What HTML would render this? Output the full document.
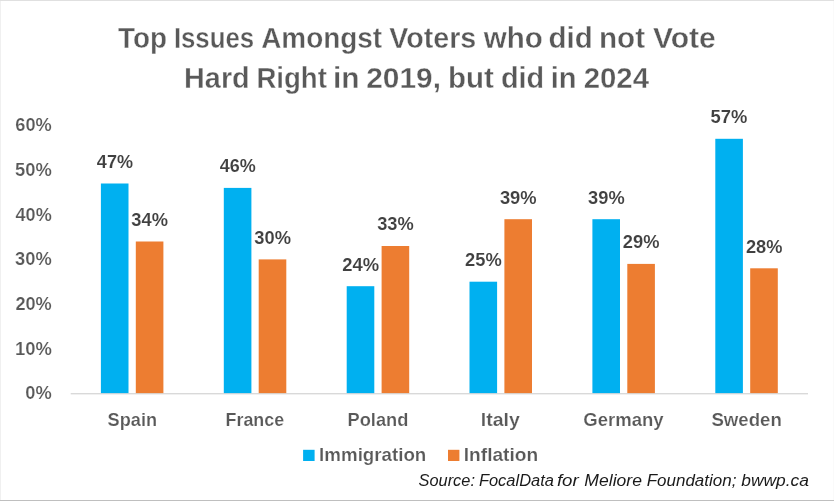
<!DOCTYPE html>
<html><head><meta charset="utf-8"><title>Chart</title>
<style>
html,body{margin:0;padding:0;background:#fff;}
body{width:834px;height:501px;overflow:hidden;position:relative;}
svg{display:block;position:absolute;left:0;top:0;will-change:transform;}
svg text{font-family:"Liberation Sans",sans-serif;}
.bt{position:absolute;left:0;top:0;width:834px;height:1px;background:#e0e0e0;}
.bb{position:absolute;left:0;top:500px;width:834px;height:1px;background:#bfbfbf;}
.bl{position:absolute;left:0;top:0;width:1px;height:501px;background:#f0f0f0;}
.br{position:absolute;left:833px;top:0;width:1px;height:501px;background:#fafafa;}
</style></head><body>
<svg width="834" height="501" viewBox="0 0 834 501">
<rect x="70.7" y="393.0" width="737.3" height="1.4" fill="#d9d9d9"/>
<rect x="100.9" y="183.5" width="27.6" height="209.6" fill="#00b0f0"/>
<rect x="135.8" y="241.5" width="27.6" height="151.6" fill="#ed7d31"/>
<rect x="223.8" y="187.9" width="27.6" height="205.2" fill="#00b0f0"/>
<rect x="258.7" y="259.4" width="27.6" height="133.7" fill="#ed7d31"/>
<rect x="346.7" y="286.2" width="27.6" height="106.9" fill="#00b0f0"/>
<rect x="381.6" y="246.0" width="27.6" height="147.1" fill="#ed7d31"/>
<rect x="469.5" y="281.7" width="27.6" height="111.4" fill="#00b0f0"/>
<rect x="504.4" y="219.2" width="27.6" height="173.9" fill="#ed7d31"/>
<rect x="592.4" y="219.2" width="27.6" height="173.9" fill="#00b0f0"/>
<rect x="627.3" y="263.9" width="27.6" height="129.2" fill="#ed7d31"/>
<rect x="715.3" y="138.8" width="27.6" height="254.3" fill="#00b0f0"/>
<rect x="750.2" y="268.3" width="27.6" height="124.8" fill="#ed7d31"/>
<rect x="303.1" y="449.8" width="11.5" height="11.2" fill="#00b0f0"/>
<rect x="448.0" y="449.8" width="11.4" height="11.2" fill="#ed7d31"/>
<text x="118.09" y="47.6" font-size="29.6" fill="#595959" font-weight="bold" font-style="normal" textLength="49.01" lengthAdjust="spacingAndGlyphs" stroke="#fff" stroke-width="0.35">Top</text>
<text x="173.88" y="47.6" font-size="29.6" fill="#595959" font-weight="bold" font-style="normal" textLength="80.15" lengthAdjust="spacingAndGlyphs" stroke="#fff" stroke-width="0.35">Issues</text>
<text x="261.23" y="47.6" font-size="29.6" fill="#595959" font-weight="bold" font-style="normal" textLength="120.85" lengthAdjust="spacingAndGlyphs" stroke="#fff" stroke-width="0.35">Amongst</text>
<text x="389.37" y="47.6" font-size="29.6" fill="#595959" font-weight="bold" font-style="normal" textLength="86.93" lengthAdjust="spacingAndGlyphs" stroke="#fff" stroke-width="0.35">Voters</text>
<text x="483.80" y="47.6" font-size="29.6" fill="#595959" font-weight="bold" font-style="normal" textLength="59.06" lengthAdjust="spacingAndGlyphs" stroke="#fff" stroke-width="0.35">who</text>
<text x="548.51" y="47.6" font-size="29.6" fill="#595959" font-weight="bold" font-style="normal" textLength="44.20" lengthAdjust="spacingAndGlyphs" stroke="#fff" stroke-width="0.35">did</text>
<text x="598.97" y="47.6" font-size="29.6" fill="#595959" font-weight="bold" font-style="normal" textLength="46.05" lengthAdjust="spacingAndGlyphs" stroke="#fff" stroke-width="0.35">not</text>
<text x="652.90" y="47.6" font-size="29.6" fill="#595959" font-weight="bold" font-style="normal" textLength="62.90" lengthAdjust="spacingAndGlyphs" stroke="#fff" stroke-width="0.35">Vote</text>
<text x="184.08" y="88.0" font-size="29.6" fill="#595959" font-weight="bold" font-style="normal" textLength="65.62" lengthAdjust="spacingAndGlyphs" stroke="#fff" stroke-width="0.35">Hard</text>
<text x="256.40" y="88.0" font-size="29.6" fill="#595959" font-weight="bold" font-style="normal" textLength="70.49" lengthAdjust="spacingAndGlyphs" stroke="#fff" stroke-width="0.35">Right</text>
<text x="333.09" y="88.0" font-size="29.6" fill="#595959" font-weight="bold" font-style="normal" textLength="26.51" lengthAdjust="spacingAndGlyphs" stroke="#fff" stroke-width="0.35">in</text>
<text x="366.22" y="88.0" font-size="29.6" fill="#595959" font-weight="bold" font-style="normal" textLength="74.73" lengthAdjust="spacingAndGlyphs" stroke="#fff" stroke-width="0.35">2019,</text>
<text x="447.95" y="88.0" font-size="29.6" fill="#595959" font-weight="bold" font-style="normal" textLength="45.83" lengthAdjust="spacingAndGlyphs" stroke="#fff" stroke-width="0.35">but</text>
<text x="500.95" y="88.0" font-size="29.6" fill="#595959" font-weight="bold" font-style="normal" textLength="43.27" lengthAdjust="spacingAndGlyphs" stroke="#fff" stroke-width="0.35">did</text>
<text x="550.69" y="88.0" font-size="29.6" fill="#595959" font-weight="bold" font-style="normal" textLength="25.88" lengthAdjust="spacingAndGlyphs" stroke="#fff" stroke-width="0.35">in</text>
<text x="583.66" y="88.0" font-size="29.6" fill="#595959" font-weight="bold" font-style="normal" textLength="65.34" lengthAdjust="spacingAndGlyphs" stroke="#fff" stroke-width="0.35">2024</text>
<text x="25.37" y="399.3" font-size="18.0" fill="#595959" font-weight="bold" font-style="normal" textLength="26.39" lengthAdjust="spacingAndGlyphs" stroke="#fff" stroke-width="0.18">0%</text>
<text x="14.91" y="354.6" font-size="18.0" fill="#595959" font-weight="bold" font-style="normal" textLength="36.89" lengthAdjust="spacingAndGlyphs" stroke="#fff" stroke-width="0.18">10%</text>
<text x="15.41" y="310.0" font-size="18.0" fill="#595959" font-weight="bold" font-style="normal" textLength="36.38" lengthAdjust="spacingAndGlyphs" stroke="#fff" stroke-width="0.18">20%</text>
<text x="15.11" y="265.3" font-size="18.0" fill="#595959" font-weight="bold" font-style="normal" textLength="36.64" lengthAdjust="spacingAndGlyphs" stroke="#fff" stroke-width="0.18">30%</text>
<text x="15.57" y="220.6" font-size="18.0" fill="#595959" font-weight="bold" font-style="normal" textLength="36.15" lengthAdjust="spacingAndGlyphs" stroke="#fff" stroke-width="0.18">40%</text>
<text x="15.06" y="176.0" font-size="18.0" fill="#595959" font-weight="bold" font-style="normal" textLength="36.72" lengthAdjust="spacingAndGlyphs" stroke="#fff" stroke-width="0.18">50%</text>
<text x="15.34" y="131.3" font-size="18.0" fill="#595959" font-weight="bold" font-style="normal" textLength="36.46" lengthAdjust="spacingAndGlyphs" stroke="#fff" stroke-width="0.18">60%</text>
<text x="96.88" y="167.9" font-size="18.0" fill="#404040" font-weight="bold" font-style="normal" textLength="36.11" lengthAdjust="spacingAndGlyphs" stroke="#fff" stroke-width="0.1">47%</text>
<text x="131.33" y="225.9" font-size="18.0" fill="#404040" font-weight="bold" font-style="normal" textLength="36.58" lengthAdjust="spacingAndGlyphs" stroke="#fff" stroke-width="0.1">34%</text>
<text x="107.59" y="426.2" font-size="18.0" fill="#595959" font-weight="bold" font-style="normal" textLength="49.45" lengthAdjust="spacingAndGlyphs" stroke="#fff" stroke-width="0.18">Spain</text>
<text x="219.82" y="172.3" font-size="18.0" fill="#404040" font-weight="bold" font-style="normal" textLength="35.99" lengthAdjust="spacingAndGlyphs" stroke="#fff" stroke-width="0.1">46%</text>
<text x="254.31" y="243.8" font-size="18.0" fill="#404040" font-weight="bold" font-style="normal" textLength="36.71" lengthAdjust="spacingAndGlyphs" stroke="#fff" stroke-width="0.1">30%</text>
<text x="225.53" y="426.2" font-size="18.0" fill="#595959" font-weight="bold" font-style="normal" textLength="58.57" lengthAdjust="spacingAndGlyphs" stroke="#fff" stroke-width="0.18">France</text>
<text x="342.15" y="270.6" font-size="18.0" fill="#404040" font-weight="bold" font-style="normal" textLength="36.87" lengthAdjust="spacingAndGlyphs" stroke="#fff" stroke-width="0.1">24%</text>
<text x="377.20" y="230.4" font-size="18.0" fill="#404040" font-weight="bold" font-style="normal" textLength="36.53" lengthAdjust="spacingAndGlyphs" stroke="#fff" stroke-width="0.1">33%</text>
<text x="347.52" y="426.2" font-size="18.0" fill="#595959" font-weight="bold" font-style="normal" textLength="60.83" lengthAdjust="spacingAndGlyphs" stroke="#fff" stroke-width="0.18">Poland</text>
<text x="465.10" y="266.1" font-size="18.0" fill="#404040" font-weight="bold" font-style="normal" textLength="36.64" lengthAdjust="spacingAndGlyphs" stroke="#fff" stroke-width="0.1">25%</text>
<text x="499.90" y="203.6" font-size="18.0" fill="#404040" font-weight="bold" font-style="normal" textLength="36.72" lengthAdjust="spacingAndGlyphs" stroke="#fff" stroke-width="0.1">39%</text>
<text x="480.83" y="426.2" font-size="18.0" fill="#595959" font-weight="bold" font-style="normal" textLength="38.99" lengthAdjust="spacingAndGlyphs" stroke="#fff" stroke-width="0.18">Italy</text>
<text x="588.09" y="203.6" font-size="18.0" fill="#404040" font-weight="bold" font-style="normal" textLength="36.54" lengthAdjust="spacingAndGlyphs" stroke="#fff" stroke-width="0.1">39%</text>
<text x="622.77" y="248.3" font-size="18.0" fill="#404040" font-weight="bold" font-style="normal" textLength="36.66" lengthAdjust="spacingAndGlyphs" stroke="#fff" stroke-width="0.1">29%</text>
<text x="583.36" y="426.2" font-size="18.0" fill="#595959" font-weight="bold" font-style="normal" textLength="80.29" lengthAdjust="spacingAndGlyphs" stroke="#fff" stroke-width="0.18">Germany</text>
<text x="710.60" y="123.2" font-size="18.0" fill="#404040" font-weight="bold" font-style="normal" textLength="36.79" lengthAdjust="spacingAndGlyphs" stroke="#fff" stroke-width="0.1">57%</text>
<text x="745.92" y="252.7" font-size="18.0" fill="#404040" font-weight="bold" font-style="normal" textLength="36.54" lengthAdjust="spacingAndGlyphs" stroke="#fff" stroke-width="0.1">28%</text>
<text x="711.45" y="426.2" font-size="18.0" fill="#595959" font-weight="bold" font-style="normal" textLength="70.44" lengthAdjust="spacingAndGlyphs" stroke="#fff" stroke-width="0.18">Sweden</text>
<text x="319.14" y="460.9" font-size="18.0" fill="#595959" font-weight="bold" font-style="normal" textLength="107.19" lengthAdjust="spacingAndGlyphs" stroke="#fff" stroke-width="0.18">Immigration</text>
<text x="463.77" y="460.9" font-size="18.0" fill="#595959" font-weight="bold" font-style="normal" textLength="74.36" lengthAdjust="spacingAndGlyphs" stroke="#fff" stroke-width="0.18">Inflation</text>
<text x="418.59" y="486.0" font-size="16.0" fill="#1a1a1a" font-weight="normal" font-style="italic" textLength="56.35" lengthAdjust="spacingAndGlyphs">Source:</text>
<text x="478.90" y="486.0" font-size="16.0" fill="#1a1a1a" font-weight="normal" font-style="italic" textLength="75.02" lengthAdjust="spacingAndGlyphs">FocalData</text>
<text x="556.91" y="486.0" font-size="16.0" fill="#1a1a1a" font-weight="normal" font-style="italic" textLength="21.80" lengthAdjust="spacingAndGlyphs">for</text>
<text x="584.36" y="486.0" font-size="16.0" fill="#1a1a1a" font-weight="normal" font-style="italic" textLength="57.56" lengthAdjust="spacingAndGlyphs">Meliore</text>
<text x="646.74" y="486.0" font-size="16.0" fill="#1a1a1a" font-weight="normal" font-style="italic" textLength="89.63" lengthAdjust="spacingAndGlyphs">Foundation;</text>
<text x="741.30" y="486.0" font-size="16.0" fill="#1a1a1a" font-weight="normal" font-style="italic" textLength="67.58" lengthAdjust="spacingAndGlyphs">bwwp.ca</text>
</svg>
<div class="bl"></div><div class="br"></div><div class="bt"></div><div class="bb"></div>
</body></html>
